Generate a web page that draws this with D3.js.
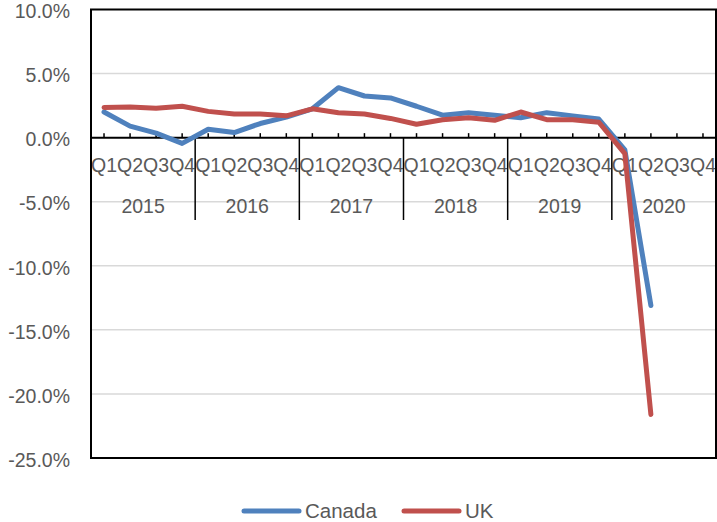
<!DOCTYPE html>
<html><head><meta charset="utf-8">
<script src="https://cdn.jsdelivr.net/npm/d3@7"></script>
<style>
html,body{margin:0;padding:0;background:#fff;}
svg{display:block;}
text{font-family:"Liberation Sans",Arial,sans-serif;fill:#595959;}
</style></head>
<body>
<svg id="chart" width="717" height="522"></svg>
<script>
const years = ["2015","2016","2017","2018","2019","2020"];
const quarters = ["Q1","Q2","Q3","Q4"];
const canada = [2.0,0.9,0.35,-0.45, 0.65,0.4,1.1,1.6, 2.25,3.9,3.25,3.1, 2.45,1.75,1.95,1.75, 1.55,1.95,1.7,1.45, -0.95,-13.1,null,null];
const uk = [2.35,2.4,2.3,2.45, 2.05,1.85,1.85,1.7, 2.25,1.95,1.85,1.5, 1.05,1.4,1.55,1.35, 2.0,1.4,1.4,1.2, -1.25,-21.6,null,null];
const yTicks = [10,5,0,-5,-10,-15,-20,-25];
const seriesNames = ["Canada","UK"];
const seriesColors = ["#4F81BD","#C0504D"];

const cats = [];
years.forEach(y => quarters.forEach(q => cats.push(y + " " + q)));

const svg = d3.select("#chart");
const L = 91, R = 716, T = 9.5, B = 458;

const x = d3.scaleBand().domain(cats).range([L, R]).paddingInner(0).paddingOuter(0);
const y = d3.scaleLinear().domain([-25, 10]).range([B, T]);
const cx = c => x(c) + x.bandwidth() / 2;

// gridlines
svg.append("g").selectAll("line").data(yTicks.filter(v => v !== 10 && v !== -25 && v !== 0))
  .join("line")
  .attr("x1", L).attr("x2", R)
  .attr("y1", d => y(d)).attr("y2", d => y(d))
  .attr("stroke", "#d9d9d9").attr("stroke-width", 1.5);

// y axis labels
const yAxis = d3.axisLeft(y).tickValues(yTicks).tickFormat(d => d.toFixed(1) + "%").tickSize(0).tickPadding(21);
const ya = svg.append("g").attr("transform", `translate(${L},2)`).call(yAxis);
ya.select(".domain").remove();
ya.selectAll("text").style("font-size", "19.5px").attr("fill", "#595959").attr("font-family", "Liberation Sans, Arial, sans-serif");

// x axis at zero: ticks upward
const x0 = y(0);
const xAxis = d3.axisTop(x).tickSize(4.5).tickFormat("");
const xa = svg.append("g").attr("transform", `translate(0,${x0})`).call(xAxis);
xa.select(".domain").remove();
xa.selectAll("line").attr("stroke", "#000").attr("stroke-width", 1.5);
svg.append("line").attr("x1", L).attr("x2", R).attr("y1", x0).attr("y2", x0)
  .attr("stroke", "#000").attr("stroke-width", 2);

// quarter labels
svg.append("g").selectAll("text").data(cats).join("text")
  .attr("x", d => cx(d)).attr("y", 172)
  .attr("text-anchor", "middle").style("font-size", "19.5px")
  .text(d => d.split(" ")[1]);

// year separators and labels
const yearBounds = years.map((yr, i) => x(yr + " Q1"));
svg.append("g").selectAll("line").data(yearBounds.slice(1)).join("line")
  .attr("x1", d => d).attr("x2", d => d)
  .attr("y1", x0).attr("y2", 220)
  .attr("stroke", "#000").attr("stroke-width", 1.5);
svg.append("g").selectAll("text").data(years).join("text")
  .attr("x", d => x(d + " Q1") + 2 * x.bandwidth())
  .attr("y", 213)
  .attr("text-anchor", "middle").style("font-size", "19.5px")
  .text(d => d);

// lines
const line = d3.line().defined(d => d.v !== null).x(d => cx(d.c)).y(d => y(d.v));
[canada, uk].forEach((arr, i) => {
  svg.append("path")
    .datum(arr.map((v, j) => ({c: cats[j], v})))
    .attr("d", line)
    .attr("fill", "none")
    .attr("stroke", seriesColors[i])
    .attr("stroke-width", 5)
    .attr("stroke-linejoin", "round")
    .attr("stroke-linecap", "round");
});

// plot border
svg.append("rect").attr("x", L).attr("y", T).attr("width", R - L).attr("height", B - T)
  .attr("fill", "none").attr("stroke", "#000").attr("stroke-width", 2);

// legend
const legX = [244, 404];
const legY = 511;
seriesNames.forEach((n, i) => {
  const g = svg.append("g");
  g.append("line").attr("x1", legX[i]).attr("x2", legX[i] + 55)
    .attr("y1", legY).attr("y2", legY)
    .attr("stroke", seriesColors[i]).attr("stroke-width", 5).attr("stroke-linecap", "round");
  g.append("text").attr("x", legX[i] + 61).attr("y", legY + 7)
    .style("font-size", "20.5px").text(n);
});
</script>
</body></html>
